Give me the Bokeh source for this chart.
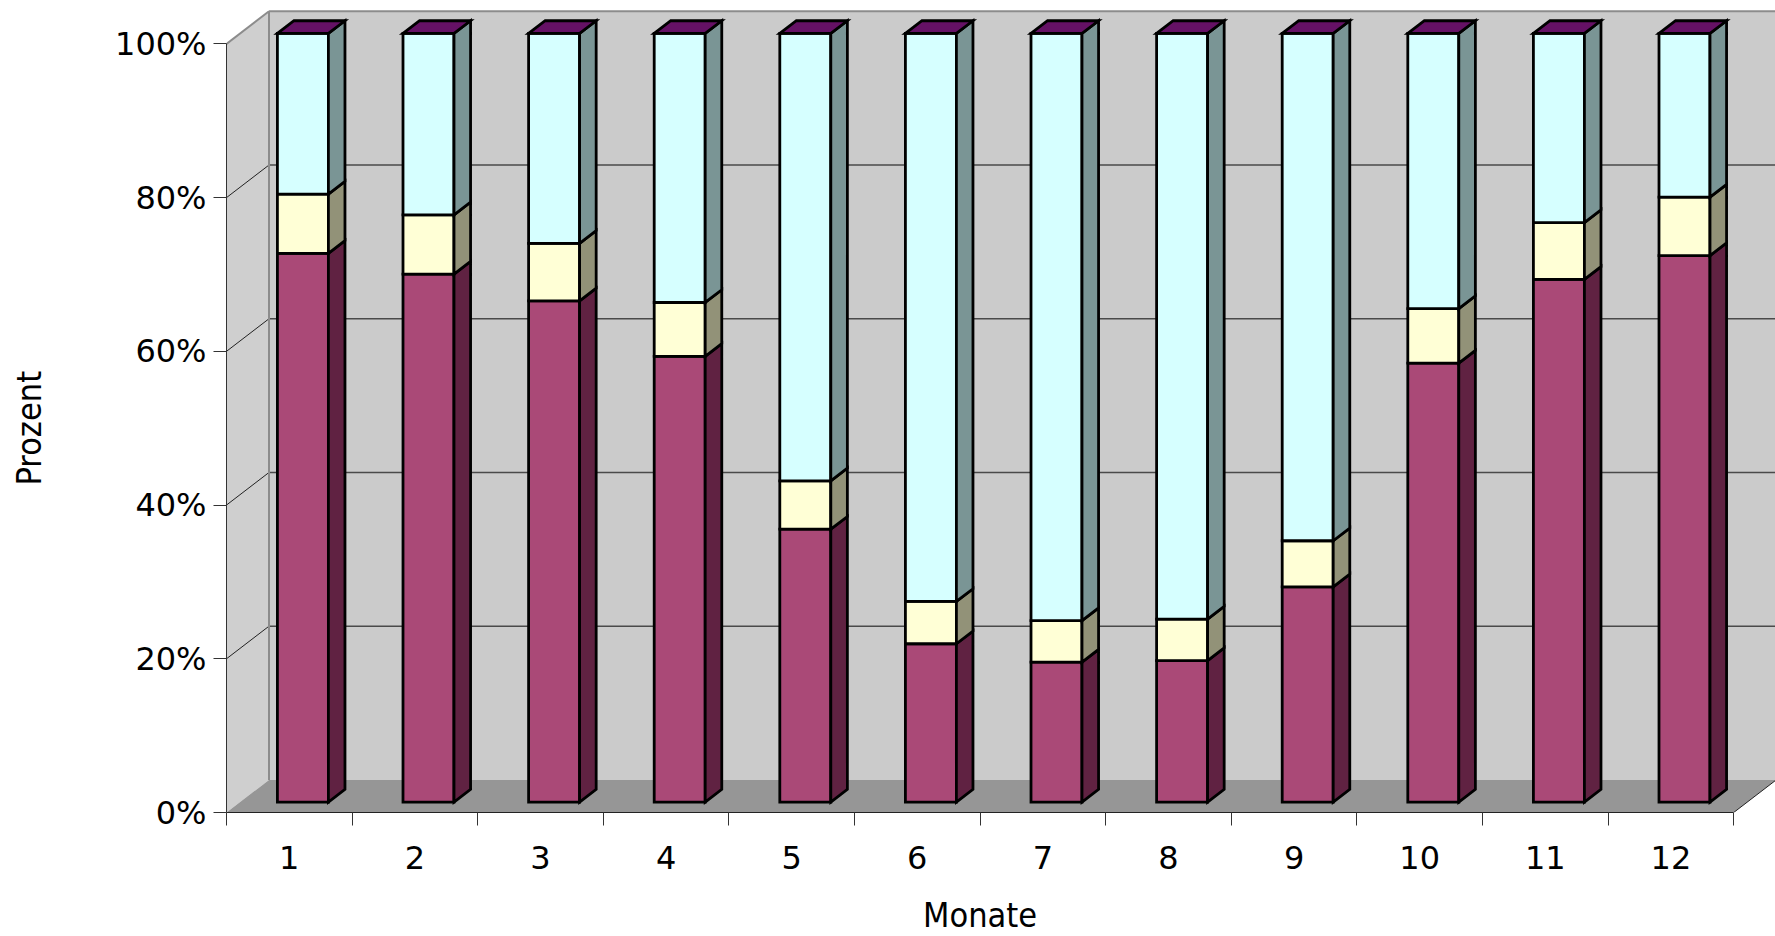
import math
from bokeh.plotting import figure
from bokeh.models import FixedTicker, Range1d, ColumnDataSource, Label
from bokeh.embed import file_html
from bokeh.resources import INLINE

# ---------------- data ----------------
months = ["1", "2", "3", "4", "5", "6", "7", "8", "9", "10", "11", "12"]
share_maroon = [71.4, 68.7, 65.2, 58.0, 35.5, 20.6, 18.2, 18.4, 28.0, 57.1, 68.0, 71.1]
share_yellow = [7.7, 7.7, 7.5, 7.0, 6.3, 5.5, 5.4, 5.4, 6.0, 7.1, 7.4, 7.6]
share_cyan = [20.9, 23.6, 27.3, 35.0, 58.2, 73.9, 76.4, 76.2, 66.0, 35.8, 24.6, 21.3]
y_ticks = [0, 20, 40, 60, 80, 100]
y_tick_labels = ["0%", "20%", "40%", "60%", "80%", "100%"]
x_title = "Monate"
y_title = "Prozent"

# ---------------- style ----------------
front_colors = ["#aa4977", "#ffffd6", "#d6ffff"]
side_colors = ["#602242", "#929278", "#7a9595"]
top_color = "#651165"
back_wall = "#cbcbcb"
side_wall = "#cfcfcf"
floor_col = "#969696"
TICK_FONT = "DejaVu Sans"
TITLE_FONT = "DejaVu Sans Condensed"

FIG_W, FIG_H = 1775, 936
LEFT, BOTTOM = 226, 124
CAT_PX = 125.6          # pixels per category
PCT_PX = 7.686          # pixels per percent
DEPTH_PX = (42.5, 32.6) # oblique depth offset of the back wall
BAR_W = 0.406           # bar width in category units
F_FRONT = 0.32          # depth fraction of bar front face
K_DEPTH = 0.39          # depth fraction of bar thickness

n = len(months)
DX = DEPTH_PX[0] / CAT_PX
DY = DEPTH_PX[1] / PCT_PX
x_end = (FIG_W - LEFT) / CAT_PX
y_end = (FIG_H - BOTTOM) / PCT_PX
ymax = y_ticks[-1]


def P(x, y, d):
    return x + d * DX, y + d * DY


def poly(points):
    pts = [P(*q) for q in points]
    return [a for a, _ in pts], [b for _, b in pts]


p = figure(width=FIG_W, height=FIG_H, x_range=Range1d(0, x_end), y_range=Range1d(0, y_end),
           output_backend="svg", toolbar_location=None,
           min_border_left=LEFT, min_border_right=0, min_border_top=0, min_border_bottom=BOTTOM)
p.grid.visible = False
p.outline_line_color = None
p.background_fill_color = "white"

# walls and floor
wx, wy, wc = [], [], []
for pts, col in [
    ([(0, 0, 0), (0, ymax, 0), (0, ymax, 1), (0, 0, 1)], side_wall),
    ([(0, 0, 1), (n, 0, 1), (n, ymax, 1), (0, ymax, 1)], back_wall),
    ([(0, 0, 0), (n, 0, 0), (n, 0, 1), (0, 0, 1)], floor_col),
]:
    xs, ys = poly(pts)
    wx.append(xs); wy.append(ys); wc.append(col)
p.patches(xs="xs", ys="ys", fill_color="c", line_color=None,
          source=ColumnDataSource(dict(xs=wx, ys=wy, c=wc)))

# gridlines
gx, gy, gc, gw = [], [], [], []
for v in y_ticks[1:]:
    xs, ys = poly([(0, v, 1), (n, v, 1)])
    gx.append(xs); gy.append(ys)
    gc.append("#8c8c8c" if v == ymax else "#4a4a4a"); gw.append(2.0 if v == ymax else 1.4)
    xs, ys = poly([(0, v, 0), (0, v, 1)])
    gx.append(xs); gy.append(ys)
    gc.append("#8c8c8c" if v == ymax else "#222222"); gw.append(2.0 if v == ymax else 1.0)
xs, ys = poly([(0, 0, 1), (0, ymax, 1)])
gx.append(xs); gy.append(ys); gc.append("#8c8c8c"); gw.append(2.0)
xs, ys = poly([(n, 0, 0), (n, 0, 1)])
gx.append(xs); gy.append(ys); gc.append("#222222"); gw.append(1.0)
p.multi_line(xs="xs", ys="ys", line_color="c", line_width="w",
             source=ColumnDataSource(dict(xs=gx, ys=gy, c=gc, w=gw)))

# bars
bx, by, bc = [], [], []
for i in range(n):
    vals = [share_maroon[i], share_yellow[i], share_cyan[i]]
    tot = sum(vals)
    vals = [v * ymax / tot for v in vals]
    c0 = i + 0.5
    xl = c0 - BAR_W / 2
    xr = c0 + BAR_W / 2
    d0, d1 = F_FRONT, F_FRONT + K_DEPTH
    bottom = 0.0
    for s, v in enumerate(vals):
        top = bottom + v
        xs, ys = poly([(xl, bottom, d0), (xr, bottom, d0), (xr, top, d0), (xl, top, d0)])
        bx.append(xs); by.append(ys); bc.append(front_colors[s])
        xs, ys = poly([(xr, bottom, d0), (xr, bottom, d1), (xr, top, d1), (xr, top, d0)])
        bx.append(xs); by.append(ys); bc.append(side_colors[s])
        bottom = top
    xs, ys = poly([(xl, ymax, d0), (xr, ymax, d0), (xr, ymax, d1), (xl, ymax, d1)])
    bx.append(xs); by.append(ys); bc.append(top_color)
p.patches(xs="xs", ys="ys", fill_color="c", line_color="black", line_width=2.8,
          line_join="miter", source=ColumnDataSource(dict(xs=bx, ys=by, c=bc)))

# axes
xa = p.xaxis[0]
xa.ticker = FixedTicker(ticks=[i + 0.5 for i in range(n)], minor_ticks=list(range(n + 1)))
xa.major_label_overrides = {i + 0.5: months[i] for i in range(n)}
xa.bounds = (0, n)
xa.major_tick_out = 0
xa.major_tick_in = 0
xa.minor_tick_out = 13
xa.minor_tick_in = 0
xa.minor_tick_line_color = "#333333"
xa.axis_line_color = "#222222"
xa.major_label_standoff = 20
xa.major_label_text_font = TICK_FONT
xa.major_label_text_font_size = "32px"
xa.major_label_text_color = "black"

ya = p.yaxis[0]
ya.ticker = FixedTicker(ticks=y_ticks, minor_ticks=[])
ya.major_label_overrides = {t: l for t, l in zip(y_ticks, y_tick_labels)}
ya.bounds = (0, ymax)
ya.major_tick_out = 13
ya.major_tick_in = 0
ya.major_tick_line_color = "#333333"
ya.axis_line_color = "#333333"
ya.major_label_standoff = 7
ya.major_label_text_font = TICK_FONT
ya.major_label_text_font_size = "32px"
ya.major_label_text_color = "black"

# axis titles, centred on the axis extents as in the original (placed in the side panels)
p.add_layout(Label(x=n / 2, y=0, y_offset=-102, text=x_title, text_font=TITLE_FONT,
                   text_font_size="34px", text_color="black",
                   text_align="center", text_baseline="middle"), "below")
p.add_layout(Label(x=0, y=ymax / 2, x_offset=-198, text=y_title, text_font=TITLE_FONT,
                   text_font_size="34px", text_color="black", angle=math.pi / 2,
                   text_align="center", text_baseline="middle"), "left")

open("out.html", "w").write(file_html(p, INLINE))
